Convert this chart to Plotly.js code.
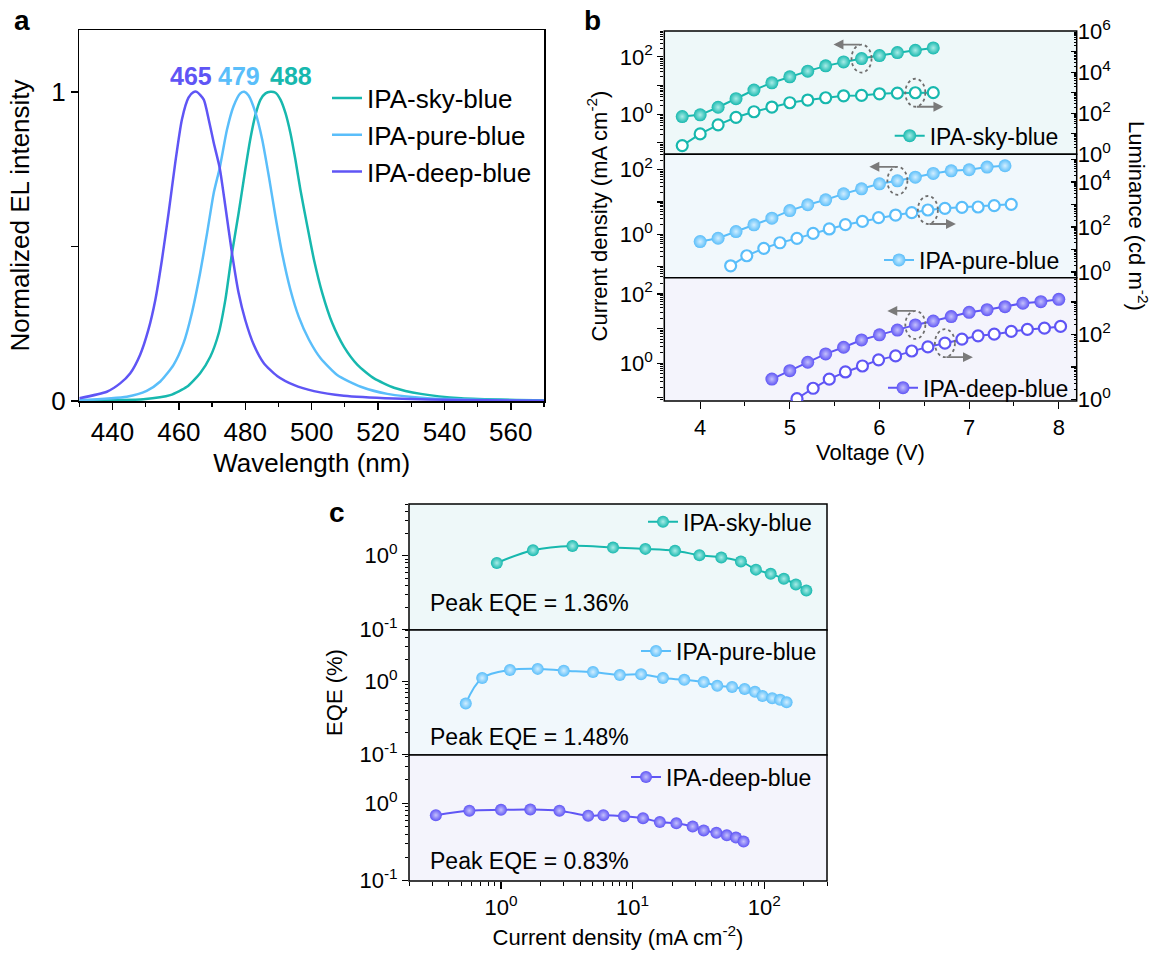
<!DOCTYPE html>
<html><head><meta charset="utf-8">
<script src="https://cdn.plot.ly/plotly-3.0.1.min.js"></script>
<style>html,body{margin:0;padding:0;background:#fff}#chart{width:1153px;height:954px}</style>
</head><body><div id="chart"></div>
<script>
// ---------- Panel a: EL spectra ----------
const wlSky = [430.0, 449.3, 457.4, 462.4, 466.4, 469.5, 472.0, 474.0, 476.0, 478.0, 480.0, 481.5, 483.1, 484.6, 486.1, 487.6, 489.1, 490.6, 492.1, 493.6, 495.1, 496.6, 498.7, 500.7, 503.2, 506.2, 509.7, 513.8, 518.8, 524.8, 532.9, 545.0, 570.0];
const elSky = [0.001, 0.006, 0.019, 0.046, 0.090, 0.144, 0.219, 0.327, 0.478, 0.608, 0.748, 0.846, 0.927, 0.975, 0.995, 1.000, 0.997, 0.975, 0.932, 0.867, 0.781, 0.684, 0.565, 0.457, 0.349, 0.252, 0.176, 0.117, 0.073, 0.043, 0.023, 0.009, 0.002];
const wlPure = [430.0, 444.3, 450.3, 454.4, 458.4, 461.4, 463.9, 466.4, 468.5, 470.5, 472.3, 474.5, 476.5, 478.5, 479.7, 481.0, 483.1, 485.1, 487.1, 489.1, 491.1, 493.6, 496.1, 499.2, 502.7, 507.7, 514.8, 522.8, 534.9, 555.0, 570.0];
const elPure = [0.003, 0.014, 0.033, 0.063, 0.117, 0.187, 0.284, 0.414, 0.543, 0.673, 0.754, 0.878, 0.954, 0.995, 1.000, 0.988, 0.932, 0.846, 0.727, 0.597, 0.478, 0.360, 0.273, 0.198, 0.138, 0.084, 0.046, 0.023, 0.009, 0.003, 0.001];
const wlDeep = [430.0, 438.3, 442.3, 445.3, 448.3, 450.8, 452.9, 454.9, 456.9, 458.9, 460.9, 462.9, 464.4, 465.4, 467.5, 469.0, 470.5, 472.3, 474.0, 476.0, 478.0, 480.0, 482.6, 485.6, 489.6, 494.6, 500.7, 509.7, 524.8, 545.0, 570.0];
const elDeep = [0.009, 0.030, 0.057, 0.089, 0.149, 0.230, 0.327, 0.457, 0.608, 0.770, 0.910, 0.981, 0.999, 1.000, 0.975, 0.910, 0.835, 0.754, 0.630, 0.478, 0.349, 0.262, 0.181, 0.122, 0.081, 0.052, 0.032, 0.017, 0.008, 0.003, 0.001];
const peakWl = [465, 479, 488];
const peakText = ['465', '479', '488'];
const seriesNames = ['IPA-sky-blue', 'IPA-pure-blue', 'IPA-deep-blue'];

// ---------- Panel b: J-V-L ----------
const vSky = [3.8, 4.0, 4.2, 4.4, 4.6, 4.8, 5.0, 5.2, 5.4, 5.6, 5.8, 6.0, 6.2, 6.4, 6.6];
const jSky = [0.83, 0.95, 1.75, 3.5, 7.0, 12.5, 20.2, 31.8, 48.7, 67, 87.5, 111, 141, 170, 205];
const lSky = [2.6, 9.7, 27, 63, 118, 200, 325, 440, 570, 710, 740, 890, 960, 1000, 1010];
const vPureJ = [4.0, 4.2, 4.4, 4.6, 4.8, 5.0, 5.2, 5.4, 5.6, 5.8, 6.0, 6.2, 6.4, 6.6, 6.8, 7.0, 7.2, 7.4];
const jPure = [0.59, 0.75, 1.21, 1.95, 3.14, 5.4, 8.2, 11.7, 17.9, 25.7, 36.7, 45.5, 59, 77, 93, 100, 121, 133];
const vPureL = [4.34, 4.52, 4.71, 4.89, 5.08, 5.26, 5.44, 5.62, 5.81, 5.99, 6.18, 6.36, 6.54, 6.73, 6.92, 7.10, 7.28, 7.47];
const lPure = [1.9, 5.3, 11.3, 20, 31.4, 52, 82, 127, 178, 260, 341, 433, 570, 675, 750, 775, 890, 1020];
const vDeepJ = [4.8, 5.0, 5.2, 5.4, 5.6, 5.8, 6.0, 6.2, 6.4, 6.6, 6.8, 7.0, 7.2, 7.4, 7.6, 7.8, 8.0];
const jDeep = [0.35, 0.61, 1.07, 1.86, 2.9, 4.7, 6.6, 9.1, 12.8, 16.6, 22.2, 29.6, 35.3, 43, 54, 60, 70];
const vDeepL = [5.08, 5.26, 5.44, 5.62, 5.81, 5.99, 6.18, 6.36, 6.54, 6.73, 6.92, 7.10, 7.28, 7.47, 7.65, 7.84, 8.02];
const lDeep = [1.05, 2.2, 4.2, 7, 10.7, 16.5, 21.9, 31, 41.5, 54, 72, 91, 102, 124, 143, 157, 177];

// ---------- Panel c: EQE-J ----------
const jSkyE = [0.93, 1.75, 3.49, 7.1, 12.5, 21, 32.2, 47.2, 66.5, 86.5, 112, 141, 174, 209];
const eqeSky = [0.80, 1.19, 1.36, 1.29, 1.24, 1.17, 1.02, 0.95, 0.84, 0.65, 0.57, 0.49, 0.41, 0.34];
const jPureE = [0.54, 0.72, 1.17, 1.90, 3.0, 5.0, 8.0, 11.6, 17, 24.7, 34.7, 44, 57, 71, 85, 97, 115, 132, 148];
const eqePure = [0.50, 1.11, 1.43, 1.48, 1.40, 1.34, 1.22, 1.25, 1.11, 1.05, 0.98, 0.87, 0.84, 0.79, 0.72, 0.63, 0.59, 0.56, 0.52];
const jDeepE = [0.32, 0.575, 1.0, 1.67, 2.78, 4.6, 6.0, 8.6, 12.0, 16.1, 21.5, 28.6, 34.7, 43.3, 52, 61, 69.7];
const eqeDeep = [0.70, 0.80, 0.82, 0.83, 0.80, 0.69, 0.70, 0.68, 0.64, 0.57, 0.55, 0.50, 0.445, 0.415, 0.385, 0.36, 0.32];
const peakEqeText = ['Peak EQE = 1.36%', 'Peak EQE = 1.48%', 'Peak EQE = 0.83%'];

// ---------- styling ----------
const FONT = '"Liberation Sans", Arial, Helvetica, sans-serif';
const W = 1153, H = 954;
const px = v => v / W;
const py = v => 1 - v / H;
const cSky = '#17B8AE', cPure = '#5ABEFA', cDeep = '#5F55F5';
const hSky = '#A8ECE7', hPure = '#D2EEFF', hDeep = '#C4C0FC';
const bgTop = '#EEF8F9', bgMid = '#F1F8FC', bgBot = '#F4F4FC';
const sup = n => '10<sup>' + n + '</sup>';

const traces = [];
// panel a
[[wlSky, elSky, cSky], [wlPure, elPure, cPure], [wlDeep, elDeep, cDeep]].forEach((s, i) => {
  traces.push({x: s[0], y: s[1], type: 'scatter', mode: 'lines', name: seriesNames[i],
    line: {color: s[2], width: 2.5, shape: 'spline', smoothing: 0.6}, xaxis: 'x', yaxis: 'y', legend: 'legend'});
});
// panel b
function jvl(vj, j, vl, l, col, hl, name, yJ, yL, leg) {
  traces.push({x: vl, y: l, type: 'scatter', mode: 'lines+markers', showlegend: false,
    line: {color: col, width: 2}, marker: {size: 11, color: '#ffffff', line: {color: col, width: 2.2}},
    xaxis: 'x2', yaxis: yL});
  traces.push({x: vj, y: j, type: 'scatter', mode: 'lines+markers', name: name,
    line: {color: col, width: 2}, marker: {size: 13, color: col, gradient: {type: 'radial', color: hl}},
    xaxis: 'x2', yaxis: yJ, legend: leg});
}
jvl(vSky, jSky, vSky, lSky, cSky, hSky, seriesNames[0], 'y2', 'y5', 'legend2');
jvl(vPureJ, jPure, vPureL, lPure, cPure, hPure, seriesNames[1], 'y3', 'y6', 'legend3');
jvl(vDeepJ, jDeep, vDeepL, lDeep, cDeep, hDeep, seriesNames[2], 'y4', 'y7', 'legend4');
// panel c
[[jSkyE, eqeSky, cSky, hSky, 'y8', 'legend5'], [jPureE, eqePure, cPure, hPure, 'y9', 'legend6'], [jDeepE, eqeDeep, cDeep, hDeep, 'y10', 'legend7']].forEach((s, i) => {
  traces.push({x: s[0], y: s[1], type: 'scatter', mode: 'lines+markers', name: seriesNames[i],
    line: {color: s[2], width: 2, shape: 'spline', smoothing: 1},
    marker: {size: 12, color: s[2], gradient: {type: 'radial', color: s[3]}},
    xaxis: 'x3', yaxis: s[4], legend: s[5]});
});

// axes helpers
const tf = size => ({family: FONT, size: size, color: '#000'});
function logY(domain, range, tickvals, ticktext, side, extra) {
  const inside = side === 'right';
  return Object.assign({
    domain: domain, type: 'log', range: range, tickmode: 'array', tickvals: tickvals, ticktext: ticktext,
    ticks: inside ? 'inside' : 'outside', ticklen: 6, tickwidth: 1.2, tickcolor: '#000',
    minor: {dtick: 'D1', ticks: inside ? 'inside' : 'outside', ticklen: 3, tickwidth: 1, tickcolor: '#000'},
    showgrid: false, zeroline: false, showline: false, tickfont: tf(22), side: side, anchor: 'x2'
  }, extra || {});
}
const bLeftVals = [0.1, 1, 10, 100];
const bLeftText = ['', sup(0), '', sup(2)];

const bTopPx = [31, 154.3], bMidPx = [154.3, 277.7], bBotPx = [277.7, 401];
const bXPx = [664.3, 1076.7];
const dom = p => [py(p[1]), py(p[0])];
const yTopC = [py(630), py(504)], yMidC = [py(755), py(630)], yBotC = [py(881), py(755)];

const rangeB = {
  y2: [Math.log10(0.04), Math.log10(800)], y3: [-1.35, 2.48], y4: [-1.09, 2.47],
  y5: [-0.01, 6.02], y6: [-0.25, 5.23], y7: [-0.05, 3.75]
};
const heightB = {y2: bTopPx, y5: bTopPx, y3: bMidPx, y6: bMidPx, y4: bBotPx, y7: bBotPx};
const rangeVb = [3.6, 8.2];

function legendAt(xText, yCenter, size) {
  return {x: px(xText - 42), y: py(yCenter), xanchor: 'left', yanchor: 'middle', bgcolor: 'rgba(0,0,0,0)',
    borderwidth: 0, font: tf(size)};
}

const layout = {
  width: W, height: H, margin: {l: 0, r: 0, t: 0, b: 0},
  paper_bgcolor: '#ffffff', plot_bgcolor: 'rgba(0,0,0,0)',
  font: {family: FONT, color: '#000'},
  showlegend: true,
  // panel a
  xaxis: {domain: [px(79.3), px(544)], anchor: 'y', range: [430, 570], tickmode: 'linear', tick0: 440, dtick: 20,
    ticks: 'outside', ticklen: 7, tickwidth: 1.5, tickcolor: '#000',
    minor: {dtick: 10, tick0: 430, ticks: 'outside', ticklen: 4, tickwidth: 1.2, tickcolor: '#000'},
    showline: true, mirror: true, linecolor: '#000', linewidth: 1.5, showgrid: false, zeroline: false,
    tickfont: tf(26), title: {text: 'Wavelength (nm)', font: tf(26), standoff: 8}},
  yaxis: {domain: [py(401), py(30)], anchor: 'x', range: [0, 1.2], tickmode: 'array', tickvals: [0, 0.5, 1], ticktext: ['0', '', '1'],
    ticks: 'outside', ticklen: 7, tickwidth: 1.5, tickcolor: '#000',
    showline: true, mirror: true, linecolor: '#000', linewidth: 1.5, showgrid: false, zeroline: false,
    tickfont: tf(26), title: {text: 'Normalized EL intensity', font: tf(26), standoff: 14}},
  // panel b
  xaxis2: {domain: [px(bXPx[0]), px(bXPx[1])], anchor: 'y4', range: rangeVb, tickmode: 'linear', tick0: 4, dtick: 1,
    ticks: 'outside', ticklen: 7, tickwidth: 1.2, tickcolor: '#000',
    minor: {dtick: 0.5, tick0: 4, ticks: 'outside', ticklen: 4, tickwidth: 1, tickcolor: '#000'},
    showline: false, showgrid: false, zeroline: false, tickfont: tf(22),
    title: {text: 'Voltage (V)', font: tf(22), standoff: 4}},
  yaxis2: logY(dom(bTopPx), rangeB.y2, bLeftVals, bLeftText, 'left'),
  yaxis3: logY(dom(bMidPx), rangeB.y3, bLeftVals, bLeftText, 'left',
    {title: {text: 'Current density (mA cm<sup>-2</sup>)', font: tf(22), standoff: 6}}),
  yaxis4: logY(dom(bBotPx), rangeB.y4, bLeftVals, bLeftText, 'left'),
  yaxis5: logY(dom(bTopPx), rangeB.y5, [1, 10, 100, 1e3, 1e4, 1e5, 1e6], [sup(0), '', sup(2), '', sup(4), '', sup(6)], 'right', {overlaying: 'y2'}),
  yaxis6: logY(dom(bMidPx), rangeB.y6, [1, 10, 100, 1e3, 1e4, 1e5], [sup(0), '', sup(2), '', sup(4), ''], 'right', {overlaying: 'y3'}),
  yaxis7: logY(dom(bBotPx), rangeB.y7, [1, 10, 100, 1e3], [sup(0), '', sup(2), ''], 'right', {overlaying: 'y4'}),
  // panel c
  xaxis3: {domain: [px(409), px(827)], anchor: 'y10', type: 'log', range: [Math.log10(0.2), Math.log10(300)],
    tickmode: 'array', tickvals: [1, 10, 100], ticktext: [sup(0), sup(1), sup(2)],
    ticks: 'outside', ticklen: 7, tickwidth: 1.2, tickcolor: '#000',
    minor: {dtick: 'D1', ticks: 'outside', ticklen: 4, tickwidth: 1, tickcolor: '#000'},
    showline: false, showgrid: false, zeroline: false, tickfont: tf(22),
    title: {text: 'Current density (mA cm<sup>-2</sup>)', font: tf(22), standoff: 10}},
  yaxis8: logY(yTopC, [-1.003, 0.70], [0.1, 1], [sup('-1'), sup(0)], 'left', {anchor: 'x3'}),
  yaxis9: logY(yMidC, [-1.003, 0.70], [0.1, 1], [sup('-1'), sup(0)], 'left',
    {anchor: 'x3', title: {text: 'EQE (%)', font: tf(22), standoff: 10}}),
  yaxis10: logY(yBotC, [-1.003, 0.62], [0.1, 1], [sup('-1'), sup(0)], 'left', {anchor: 'x3'}),
  legend: legendAt(369, 135, 26),
  legend2: legendAt(931.7, 135.7, 23),
  legend3: legendAt(921, 260, 23),
  legend4: legendAt(925, 387.7, 23),
  legend5: legendAt(685, 521.7, 23),
  legend6: legendAt(678, 651, 23),
  legend7: legendAt(668, 777, 23),
  shapes: [],
  annotations: []
};

// subpanel frames and backgrounds
[['y2', bgTop], ['y3', bgMid], ['y4', bgBot]].forEach(s => {
  layout.shapes.push({type: 'rect', xref: 'x2 domain', yref: s[0] + ' domain', x0: 0, x1: 1, y0: 0, y1: 1,
    fillcolor: s[1], line: {color: '#000', width: 1.5}, layer: 'below'});
});
[['y8', bgTop], ['y9', bgMid], ['y10', bgBot]].forEach(s => {
  layout.shapes.push({type: 'rect', xref: 'x3 domain', yref: s[0] + ' domain', x0: 0, x1: 1, y0: 0, y1: 1,
    fillcolor: s[1], line: {color: '#000', width: 1.5}, layer: 'below'});
});

// dotted ellipses and gray arrows indicating axes (anchored on data points)
const arrowSpecs = [
  {yref: 'y2', xs: vSky, ys: jSky, i: 10, dir: -1},
  {yref: 'y5', xs: vSky, ys: lSky, i: 13, dir: 1},
  {yref: 'y3', xs: vPureJ, ys: jPure, i: 11, dir: -1},
  {yref: 'y6', xs: vPureL, ys: lPure, i: 12, dir: 1},
  {yref: 'y4', xs: vDeepJ, ys: jDeep, i: 8, dir: -1},
  {yref: 'y7', xs: vDeepL, ys: lDeep, i: 9, dir: 1}
];
const pxPerV = (bXPx[1] - bXPx[0]) / (rangeVb[1] - rangeVb[0]);
arrowSpecs.forEach(a => {
  const hp = heightB[a.yref];
  const r = rangeB[a.yref];
  const pxPerDec = (hp[1] - hp[0]) / (r[1] - r[0]);
  const xv = a.xs[a.i], yv = a.ys[a.i];
  layout.shapes.push({type: 'circle', xref: 'x2', yref: a.yref, layer: 'above',
    x0: xv - 10 / pxPerV, x1: xv + 10 / pxPerV,
    y0: yv / Math.pow(10, 14 / pxPerDec), y1: yv * Math.pow(10, 14 / pxPerDec),
    line: {color: '#6e6e6e', width: 1.8, dash: 'dot'}});
  layout.annotations.push({xref: 'x2', yref: a.yref, x: xv, y: Math.log10(yv), text: '',
    showarrow: true, arrowhead: 2, arrowsize: 1.1, arrowwidth: 1.8, arrowcolor: '#7a7a7a',
    ax: -a.dir * 28, ay: 0, xshift: a.dir * 28, yshift: -a.dir * 14});
});

// peak labels in panel a
const peakCols = [cDeep, cPure, cSky];
const peakShift = [-4, -3, 19];
peakWl.forEach((w, i) => {
  layout.annotations.push({xref: 'x', yref: 'y', x: w, y: 1.05, xshift: peakShift[i], text: '<b>' + peakText[i] + '</b>',
    showarrow: false, font: {family: FONT, size: 25, color: peakCols[i]}, xanchor: 'center', yanchor: 'middle'});
});

// peak EQE texts
[[603], [736.7], [860.7]].forEach((p, i) => {
  layout.annotations.push({xref: 'paper', yref: 'paper', x: px(428), y: py(p[0]), text: peakEqeText[i],
    showarrow: false, xanchor: 'left', yanchor: 'middle', font: tf(23)});
});

// right axis title (reads top to bottom)
layout.annotations.push({xref: 'paper', yref: 'paper', x: px(1138), y: py(216), text: 'Luminance (cd m<sup>-2</sup>)',
  textangle: 90, showarrow: false, xanchor: 'center', yanchor: 'middle', font: tf(22)});

// panel letters
[['a', 22, 20], ['b', 592, 21], ['c', 337, 512]].forEach(l => {
  layout.annotations.push({xref: 'paper', yref: 'paper', x: px(l[1]), y: py(l[2]), text: '<b>' + l[0] + '</b>',
    showarrow: false, xanchor: 'center', yanchor: 'middle', font: {family: FONT, size: 28, color: '#000'}});
});

Plotly.newPlot('chart', traces, layout, {displayModeBar: false, staticPlot: true});
</script></body></html>
